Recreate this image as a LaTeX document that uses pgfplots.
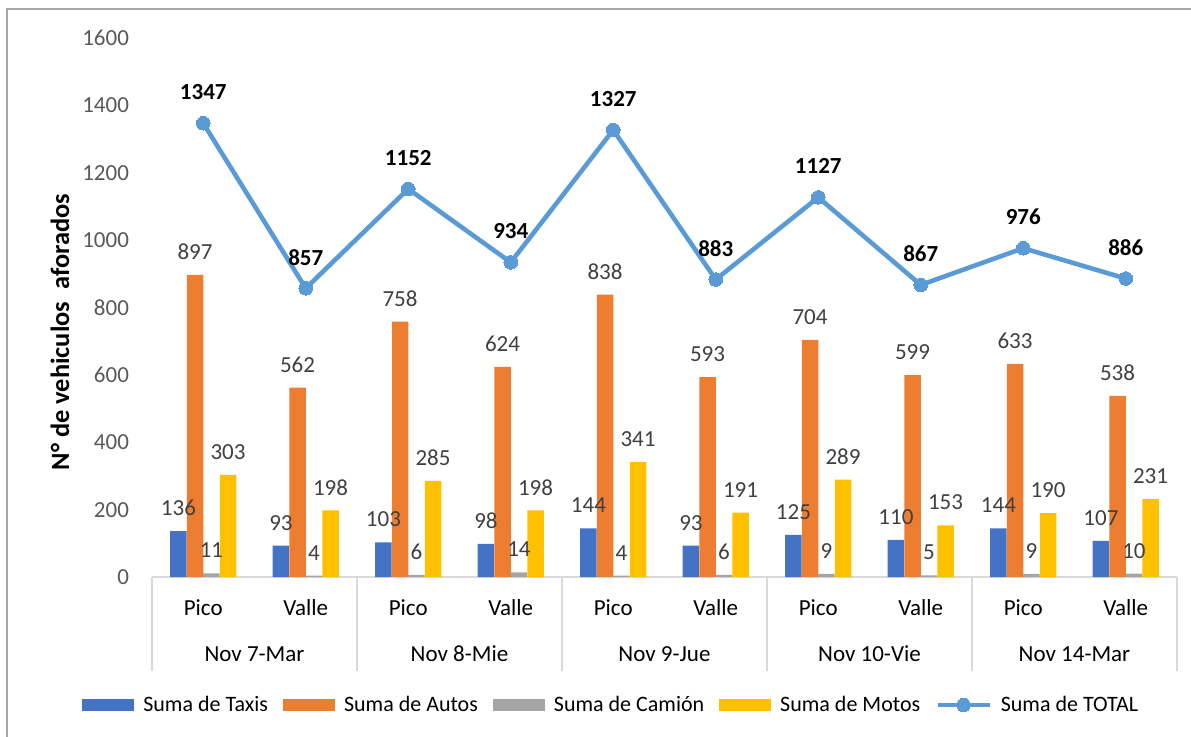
\documentclass[border=0pt]{standalone}
\usepackage{pgfplots}
\pgfplotsset{compat=1.18}
\usepackage{pgfplotstable}
\usepackage{fontspec}
\setmainfont{Carlito}
\definecolor{ctaxi}{HTML}{4472C4}
\definecolor{cauto}{HTML}{ED7D31}
\definecolor{ccam}{HTML}{A5A5A5}
\definecolor{cmoto}{HTML}{FFC000}
\definecolor{ctot}{HTML}{5B9BD5}
\definecolor{clabel}{HTML}{404040}
\definecolor{cytick}{HTML}{595959}
\definecolor{csep}{HTML}{D9D9D9}
\definecolor{cframe}{HTML}{A6A6A6}
\newcommand\lblfont{\fontsize{11.5}{13.8}\selectfont}

\pgfplotstableread{
x taxis autos camion motos total
0 136 897 11 303 1347
1 93 562 4 198 857
2 103 758 6 285 1152
3 98 624 14 198 934
4 144 838 4 341 1327
5 93 593 6 191 883
6 125 704 9 289 1127
7 110 599 5 153 867
8 144 633 9 190 976
9 107 538 10 231 886
}\datatable

\pgfplotsset{
  barlab/.style={nodes near coords,
    every node near coord/.append style={anchor=center, yshift=11.5pt, xshift=#1, font=\lblfont, text=clabel}},
  barleg/.style={legend image code/.code={\fill[##1] (0pt,-3pt) rectangle (26pt,3pt);}},
  lineleg/.style={legend image code/.code={\draw[mark repeat=2, mark phase=2, ##1] plot coordinates {(0pt,0pt) (13pt,0pt) (26pt,0pt)};}},
}

\begin{document}
\begin{tikzpicture}
\useasboundingbox (-76pt,-79.5pt) rectangle (519.5pt,288.5pt);
\clip (-76pt,-79.5pt) rectangle (519.5pt,288.5pt);
\draw[color=cframe, line width=0.75pt] (-72.5pt,-100pt) rectangle (600pt,284pt);
\begin{axis}[
  scale only axis, width=512.5pt, height=269.5pt,
  xmin=-0.5, xmax=9.5, ymin=0, ymax=1600,
  clip=false,
  axis line style={draw=none},
  major tick length=0pt,
  ytick={0,200,...,1600},
  xtick={0,...,9},
  xticklabels={Pico,Valle,Pico,Valle,Pico,Valle,Pico,Valle,Pico,Valle},
  x tick label style={anchor=center, yshift=-15.5pt, font=\lblfont, text=black},
  y tick label style={anchor=east, xshift=-8pt, font=\lblfont, text=cytick},
  /pgf/number format/assume math mode=true,
  /pgf/number format/1000 sep={},
  ylabel={N° de vehiculos\ \ aforados},
  every axis y label/.style={at={(rel axis cs:-0.0898,0.4545)}, rotate=90, anchor=center,
    font=\bfseries\fontsize{13.2}{15}\selectfont},
  legend columns=5,
  legend style={at={(rel axis cs:0.449,-0.2375)}, anchor=center, draw=none, fill=none,
    font=\fontsize{11}{13}\selectfont,
    /tikz/every odd column/.append style={column sep=2.5pt},
    /tikz/every even column/.append style={column sep=5.5pt},
    inner sep=0pt},
]
\draw[csep, line width=0.9pt] (axis cs:-0.5,0) -- (axis cs:9.5,0);
\addplot[ybar, bar width=8.25pt, bar shift=-12.4pt, fill=ctaxi, draw=none, barlab=-12.4pt, barleg]
  table[x=x, y=taxis] {\datatable};
\addlegendentry{Suma de Taxis}
\addplot[ybar, bar width=8.25pt, bar shift=-4.1pt, fill=cauto, draw=none, barlab=-4.1pt, barleg]
  table[x=x, y=autos] {\datatable};
\addlegendentry{Suma de Autos}
\addplot[ybar, bar width=8.25pt, bar shift=4.1pt, fill=ccam, draw=none, barlab=4.1pt, barleg]
  table[x=x, y=camion] {\datatable};
\addlegendentry{Suma de Camión}
\addplot[ybar, bar width=8.25pt, bar shift=12.4pt, fill=cmoto, draw=none, barlab=12.4pt, barleg]
  table[x=x, y=motos] {\datatable};
\addlegendentry{Suma de Motos}
\addplot[color=ctot, line width=2.3pt, mark=*, mark size=3.4pt,
  mark options={fill=ctot, draw=ctot, line width=0pt},
  nodes near coords,
  every node near coord/.append style={anchor=center, yshift=15.5pt, text=black,
    font=\bfseries\lblfont},
  lineleg]
  table[x=x, y=total] {\datatable};
\addlegendentry{Suma de TOTAL}
\draw[csep, line width=0.9pt] (axis cs:-0.5,0) -- ([yshift=-47pt]axis cs:-0.5,0);
\draw[csep, line width=0.9pt] (axis cs:1.5,0) -- ([yshift=-47pt]axis cs:1.5,0);
\draw[csep, line width=0.9pt] (axis cs:3.5,0) -- ([yshift=-47pt]axis cs:3.5,0);
\draw[csep, line width=0.9pt] (axis cs:5.5,0) -- ([yshift=-47pt]axis cs:5.5,0);
\draw[csep, line width=0.9pt] (axis cs:7.5,0) -- ([yshift=-47pt]axis cs:7.5,0);
\draw[csep, line width=0.9pt] (axis cs:9.5,0) -- ([yshift=-47pt]axis cs:9.5,0);
\node[font=\lblfont, text=black] at ([yshift=-38.5pt]axis cs:0.5,0) {Nov 7-Mar};
\node[font=\lblfont, text=black] at ([yshift=-38.5pt]axis cs:2.5,0) {Nov 8-Mie};
\node[font=\lblfont, text=black] at ([yshift=-38.5pt]axis cs:4.5,0) {Nov 9-Jue};
\node[font=\lblfont, text=black] at ([yshift=-38.5pt]axis cs:6.5,0) {Nov 10-Vie};
\node[font=\lblfont, text=black] at ([yshift=-38.5pt]axis cs:8.5,0) {Nov 14-Mar};
\end{axis}
\end{tikzpicture}
\end{document}
